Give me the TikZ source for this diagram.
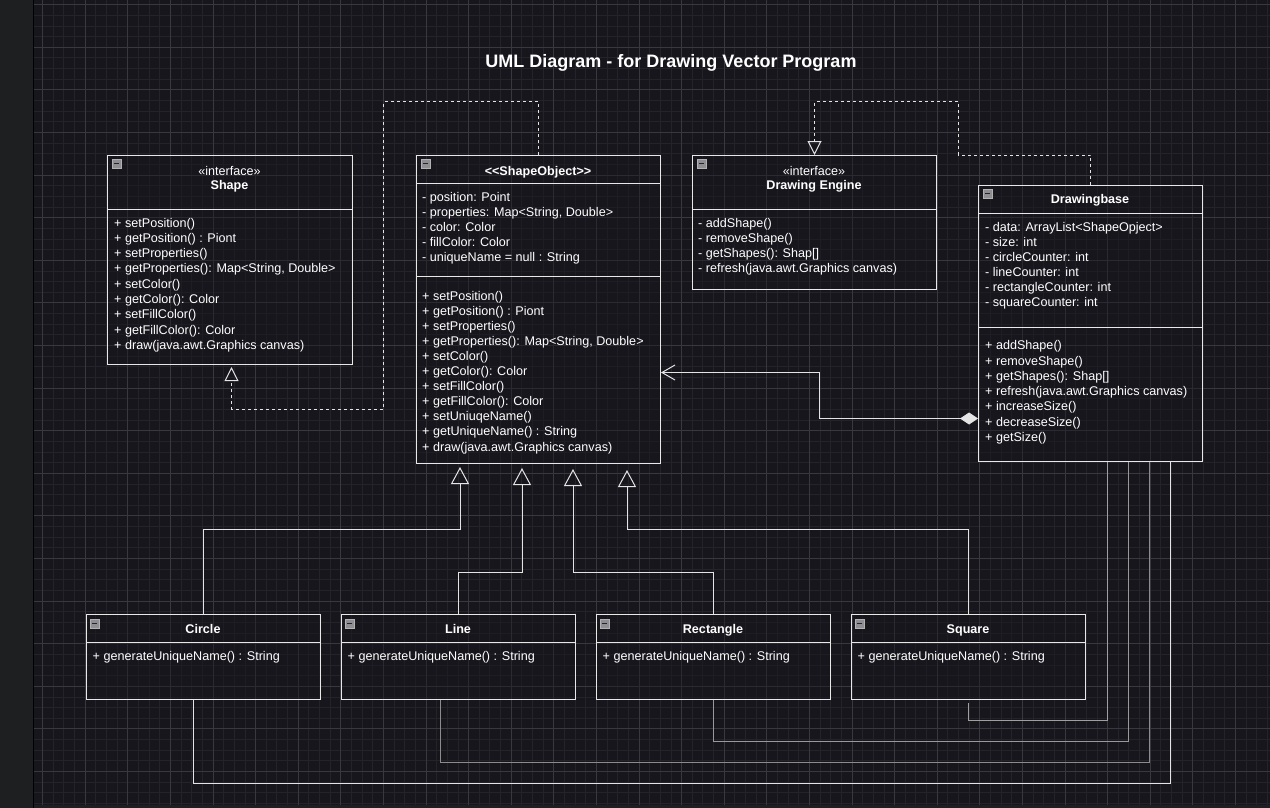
\documentclass[tikz,border=0pt]{standalone}
\usepackage{fontspec}
\setmainfont{Liberation Sans}[Ligatures=TeXOff]
\usetikzlibrary{arrows.meta,calc}
\definecolor{bgc}{HTML}{18161D}
\definecolor{sidec}{HTML}{1D1F21}
\definecolor{minorc}{HTML}{25232A}
\definecolor{majorc}{HTML}{3A383F}
\definecolor{linec}{HTML}{E4E4E4}
\definecolor{boxc}{HTML}{E8E8E8}
\definecolor{iconc}{HTML}{8E8E93}
\newcommand\mlist[5]{\foreach \mtext [count=\mi] in {#5} {\node[member] (#1-\mi) at (#2,{#3+(\mi-1)*#4}) {\mtext};}}
\newcommand\clsicon[1]{\filldraw[fill=iconc,draw=gray!60,line width=0.6pt] ([xshift=5pt,yshift=-4pt]#1.north west) rectangle ++(9,9);
  \draw[black!85,line width=1.3pt] ([xshift=7pt,yshift=-8.5pt]#1.north west) -- ++(5,0);}
\begin{document}
\begin{tikzpicture}[x=1pt,y=-1pt,
  cls/.style 2 args={draw=boxc,line width=1pt,fill=bgc,fill opacity=0.4,text opacity=1,inner sep=0,anchor=north west,minimum width=#1,minimum height=#2},
  member/.style={anchor=base west,inner sep=0,text=white,font=\fontsize{12.6}{15}\selectfont},
  stereo/.style={anchor=base,inner sep=0,text=white,font=\fontsize{12.6}{15}\selectfont},
  cname/.style={anchor=base,inner sep=0,text=white,font=\fontsize{12.6}{15}\selectfont\bfseries},
  conn/.style={draw=linec,line width=1pt},
  dashconn/.style={conn,dash pattern=on 3pt off 3pt},
  gen/.style={-{Triangle[open,length=17pt,width=18pt]}},
  real/.style={-{Triangle[open,length=14pt,width=14pt]}},
  divider/.style={draw=boxc,line width=1pt}]
\useasboundingbox (0,0) rectangle (1270,808);
% background and grid
\fill[sidec] (0,0) rectangle (1270,808);
\begin{scope}
\clip (34,0) rectangle (1270,805);
\fill[bgc] (34,0) rectangle (1270,805);
\foreach \i in {0,...,120} \draw[minorc,line width=0.9pt] ({\i*10.65},0) -- ({\i*10.65},805);
\foreach \j in {-1,...,76} \draw[minorc,line width=0.9pt] (34,{4.7+\j*10.65}) -- (1270,{4.7+\j*10.65});
\foreach \i in {0,...,30} \draw[majorc,line width=0.9pt] ({\i*42.6},0) -- ({\i*42.6},805);
\foreach \j in {0,...,19} \draw[majorc,line width=0.9pt] (34,{4.7+\j*42.6}) -- (1270,{4.7+\j*42.6});
\end{scope}
\draw[black,line width=1.5pt] (33.5,0) -- (33.5,808);

% title
\node[anchor=base,inner sep=0,text=white,font=\fontsize{18}{21}\selectfont\bfseries] (title) at (671,67) {UML Diagram - for Drawing Vector Program};

% Shape interface
\node[cls={245pt}{209pt}] (sh) at (107,155) {};
\draw[divider] ([yshift=-54pt]sh.north west) -- ([yshift=-54pt]sh.north east);
\clsicon{sh}
\node[stereo] (sh-st) at (229.5,175.5) {«interface»};
\node[cname] (sh-nm) at (229.5,189.5) {Shape};
\mlist{shm}{114}{227}{15.3}{+ setPosition(),+ getPosition() : Piont,+ setProperties(),{+ getProperties(): Map<String, Double>},+ setColor(),+ getColor(): Color,+ setFillColor(),+ getFillColor(): Color,+ draw(java.awt.Graphics canvas)}

% ShapeObject
\node[cls={244pt}{308pt}] (so) at (416,155) {};
\draw[divider] ([yshift=-28pt]so.north west) -- ([yshift=-28pt]so.north east);
\draw[divider] ([yshift=-121.5pt]so.north west) -- ([yshift=-121.5pt]so.north east);
\clsicon{so}
\node[cname] (so-nm) at (538,175) {<<ShapeObject>>};
\mlist{soa}{422}{201}{15.1}{- position: Point,{- properties: Map<String, Double>},- color: Color,- fillColor: Color,- uniqueName = null : String}
\mlist{som}{422}{300}{15.1}{+ setPosition(),+ getPosition() : Piont,+ setProperties(),{+ getProperties(): Map<String, Double>},+ setColor(),+ getColor(): Color,+ setFillColor(),+ getFillColor(): Color,+ setUniuqeName(),+ getUniqueName() : String,+ draw(java.awt.Graphics canvas)}

% Drawing Engine
\node[cls={244pt}{134pt}] (de) at (692,155) {};
\draw[divider] ([yshift=-54pt]de.north west) -- ([yshift=-54pt]de.north east);
\clsicon{de}
\node[stereo] (de-st) at (814,175.5) {«interface»};
\node[cname] (de-nm) at (814,189.5) {Drawing Engine};
\mlist{dem}{698}{227}{15.3}{- addShape(),- removeShape(),- getShapes(): Shap[],- refresh(java.awt.Graphics canvas)}

% Drawingbase
\node[cls={224pt}{276pt}] (db) at (978,185) {};
\draw[divider] ([yshift=-28pt]db.north west) -- ([yshift=-28pt]db.north east);
\draw[divider] ([yshift=-142.5pt]db.north west) -- ([yshift=-142.5pt]db.north east);
\clsicon{db}
\node[cname] (db-nm) at (1090,203.7) {Drawingbase};
\mlist{dba}{985}{231.4}{15.1}{- data: ArrayList<ShapeOpject>,- size: int,- circleCounter: int,- lineCounter: int,- rectangleCounter: int,- squareCounter: int}
\mlist{dbm}{985}{349.7}{15.3}{+ addShape(),+ removeShape(),+ getShapes(): Shap[],+ refresh(java.awt.Graphics canvas),+ increaseSize(),+ decreaseSize(),+ getSize()}

% subclasses
\foreach \nm/\xx/\ttl in {ci/86/Circle,li/341/Line,re/596/Rectangle,sq/851/Square}{
  \node[cls={234pt}{85pt}] (\nm) at (\xx,614) {};
  \draw[divider] ([yshift=-28pt]\nm.north west) -- ([yshift=-28pt]\nm.north east);
  \filldraw[fill=iconc,draw=gray!60,line width=0.6pt] ([xshift=4pt,yshift=-5pt]\nm.north west) rectangle ++(9,9);
  \draw[black!85,line width=1.3pt] ([xshift=6pt,yshift=-9.5pt]\nm.north west) -- ++(5,0);
  \node[cname] (\nm-nm) at ({\xx+117},633) {\ttl};
  \node[member] (\nm-m1) at ({\xx+6.5},660.4) {+ generateUniqueName() : String};
}

% realization ShapeObject -> Shape
\draw[dashconn,real] (so.north) -- ++(0,-53) -- ++(-155,0) -- ++(0,307) -| ([xshift=1.5pt,yshift=-2pt]sh.south);
% realization Drawingbase -> Drawing Engine
\draw[dashconn,real] (db.north) -- ++(0,-30) -- ++(-132,0) -- ++(0,-53) -| (de.north);
% composition Drawingbase -> ShapeObject
\draw[conn,{Diamond[length=18pt,width=12pt]}-{Straight Barb[length=13pt,width=15pt]}] ([yshift=-95pt]db.west) -- ++(-159,0) |- ([yshift=-63pt]so.east);
% generalizations
\draw[conn,gen] (ci.north) -- ++(0,-85) -| ([xshift=44pt,yshift=-3pt]so.south west);
\draw[conn,gen] (li.north) -- ++(0,-42) -| ([xshift=106pt,yshift=-4pt]so.south west);
\draw[conn,gen] (re.north) -- ++(0,-42) -| ([xshift=157pt,yshift=-5pt]so.south west);
\draw[conn,gen] (sq.north) -- ++(0,-85) -| ([xshift=211pt,yshift=-6pt]so.south west);
% associations Drawingbase -> subclasses
\draw[conn,draw=gray!75] ([xshift=129pt]db.south west) |- ([yshift=-20pt]sq.south) -- ([yshift=-3pt]sq.south);
\draw[conn,draw=gray!80] ([xshift=150pt]db.south west) |- ([yshift=-41pt]re.south) -- (re.south);
\draw[conn,draw=gray!90] ([xshift=171pt]db.south west) |- ([xshift=-18.5pt,yshift=-62pt]li.south) -- ([xshift=-18.5pt]li.south);
\draw[conn] ([xshift=192pt]db.south west) |- ([xshift=-10pt,yshift=-83pt]ci.south) -- ([xshift=-10pt]ci.south);
\end{tikzpicture}
\end{document}
